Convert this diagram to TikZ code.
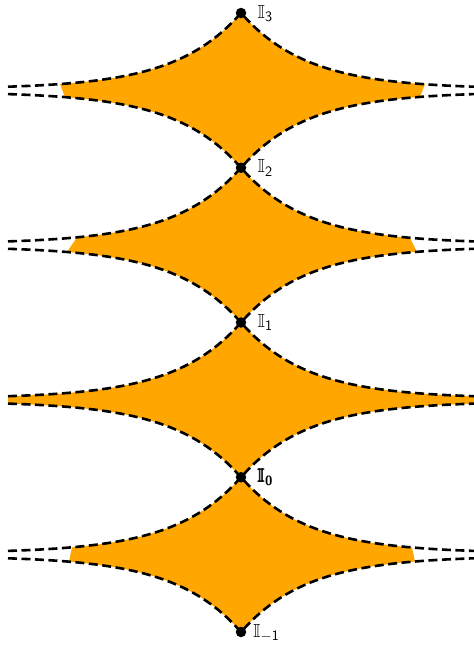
\documentclass[tikz,border=0pt]{standalone}
\usepackage{amsmath,amssymb}
\usetikzlibrary{positioning}
\definecolor{lensfill}{RGB}{255,167,0}

\tikzset{
  dot/.style={circle, fill=black, inner sep=0pt, minimum size=10.5pt},
  lab/.style={font=\fontsize{19}{22}\selectfont, inner sep=0pt, anchor=base west},
  sepline/.style={line width=2.6pt, dash pattern=on 9pt off 4.5pt},
}

\begin{document}
\begin{tikzpicture}[x=1pt, y=-1pt, declare function={dd(\u)=1.5+76*exp(-0.0152*abs(\u));}]
  \useasboundingbox (0,0) rectangle (474,646);
  % filled regions between the lines
  \foreach \yc/\lt/\lb/\rt/\rb in {90.4/181/176/184/179, 245.1/164/174/169/176, 399.9/233/233/233/233, 554.6/169/172/171/174}{
    \fill[lensfill] plot[domain=-\lt:0, samples=60] ({241+\x},{\yc-dd(\x)})
      -- plot[domain=0:\rt, samples=60] ({241+\x},{\yc-dd(\x)})
      -- plot[domain=\rb:0, samples=60] ({241+\x},{\yc+dd(\x)})
      -- plot[domain=0:-\lb, samples=60] ({241+\x},{\yc+dd(\x)}) -- cycle;
  }
  % dashed lines
  \foreach \yc in {90.4, 245.1, 399.9, 554.6}{
    \draw[sepline] plot[domain=-233:0, samples=70] ({241+\x},{\yc-dd(\x)})
      -- plot[domain=0:233, samples=70] ({241+\x},{\yc-dd(\x)});
    \draw[sepline] plot[domain=-233:0, samples=70] ({241+\x},{\yc+dd(\x)})
      -- plot[domain=0:233, samples=70] ({241+\x},{\yc+dd(\x)});
  }
  % points
  \node[dot] (I3) at (241,13) {};
  \node[dot] (I2) at (241,167.75) {};
  \node[dot] (I1) at (241,322.5) {};
  \node[dot] (I0) at (241,477.25) {};
  \node[dot] (Im1) at (241,632) {};
  \node[lab] (L3) at ([xshift=16.5pt,yshift=-5pt]I3.center) {$\mathbb{I}_{\mathsf{3}}$};
  \node[lab] (L2) at ([xshift=16.5pt,yshift=-5pt]I2.center) {$\mathbb{I}_{\mathsf{2}}$};
  \node[lab] (L1) at ([xshift=16.5pt,yshift=-5pt]I1.center) {$\mathbb{I}_{\mathsf{1}}$};
  \node[lab] (L0) at ([xshift=16.5pt,yshift=-5pt]I0.center) {$\pmb{\mathbb{I}}_{\textsf{\textbf{0}}}$};
  \node[lab] (Lm1) at ([xshift=12pt,yshift=-5pt]Im1.center) {$\mathbb{I}_{-\mathsf{1}}$};
\end{tikzpicture}
\end{document}
